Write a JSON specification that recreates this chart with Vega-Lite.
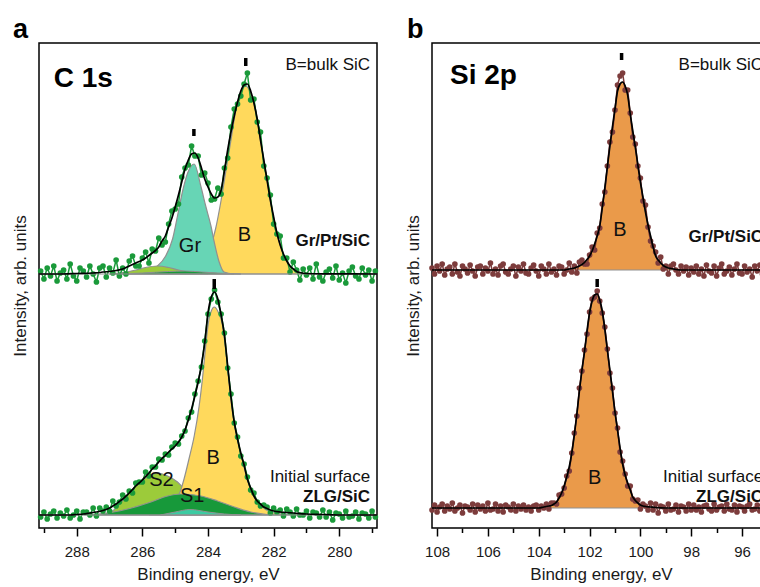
{
"$schema":"https://vega.github.io/schema/vega-lite/v6.json",
"padding":{"left":10,"top":15,"right":0,"bottom":0},
"config":{
"font":"Liberation Sans",
"view":{"stroke":"#000","strokeWidth":1.5},
"concat":{"spacing":21},
"title":{"fontSize":27,"fontWeight":"bold","anchor":"start","font":"Liberation Sans","color":"#000","offset":-1},
"axis":{"labelFont":"Liberation Sans","titleFont":"Liberation Sans","labelFontSize":15,"titleFontSize":17,"titleFontWeight":"normal","labelColor":"#1a1a1a","titleColor":"#1a1a1a","tickColor":"#000","tickWidth":1.5,"grid":false,"domain":false,"format":"d"},
"axisX":{"labelPadding":8,"titlePadding":7,"labelFlush":false,"labelOverlap":false},
"axisY":{"labels":false,"ticks":false,"titlePadding":10}
},
"datasets":{
"apts":[
{"s":"t","e":289.1,"y":257},{"s":"t","e":289.0,"y":249},{"s":"t","e":288.9,"y":260},{"s":"t","e":288.8,"y":252},{"s":"t","e":288.7,"y":262},{"s":"t","e":288.6,"y":247},{"s":"t","e":288.5,"y":255},{"s":"t","e":288.4,"y":258},{"s":"t","e":288.3,"y":249},{"s":"t","e":288.2,"y":264},{"s":"t","e":288.1,"y":252},{"s":"t","e":288.0,"y":247},{"s":"t","e":287.9,"y":260},{"s":"t","e":287.8,"y":257},{"s":"t","e":287.7,"y":251},{"s":"t","e":287.6,"y":262},{"s":"t","e":287.5,"y":254},{"s":"t","e":287.4,"y":246},{"s":"t","e":287.3,"y":260},{"s":"t","e":287.2,"y":262},{"s":"t","e":287.1,"y":251},{"s":"t","e":287.0,"y":260},{"s":"t","e":286.9,"y":255},{"s":"t","e":286.8,"y":268},{"s":"t","e":286.7,"y":252},{"s":"t","e":286.6,"y":260},{"s":"t","e":286.5,"y":254},{"s":"t","e":286.4,"y":267},{"s":"t","e":286.3,"y":272},{"s":"t","e":286.2,"y":262},{"s":"t","e":286.1,"y":262},{"s":"t","e":286.0,"y":270},{"s":"t","e":285.9,"y":276},{"s":"t","e":285.8,"y":265},{"s":"t","e":285.7,"y":279},{"s":"t","e":285.6,"y":277},{"s":"t","e":285.5,"y":290},{"s":"t","e":285.4,"y":283},{"s":"t","e":285.3,"y":286},{"s":"t","e":285.2,"y":304},{"s":"t","e":285.1,"y":317},{"s":"t","e":285.0,"y":319},{"s":"t","e":284.9,"y":324},{"s":"t","e":284.8,"y":351},{"s":"t","e":284.7,"y":360},{"s":"t","e":284.6,"y":363},{"s":"t","e":284.5,"y":382},{"s":"t","e":284.4,"y":372},{"s":"t","e":284.3,"y":372},{"s":"t","e":284.2,"y":353},{"s":"t","e":284.1,"y":355},{"s":"t","e":284.0,"y":345},{"s":"t","e":283.9,"y":328},{"s":"t","e":283.8,"y":329},{"s":"t","e":283.7,"y":340},{"s":"t","e":283.6,"y":334},{"s":"t","e":283.5,"y":360},{"s":"t","e":283.4,"y":370},{"s":"t","e":283.3,"y":401},{"s":"t","e":283.2,"y":419},{"s":"t","e":283.1,"y":424},{"s":"t","e":283.0,"y":432},{"s":"t","e":282.9,"y":444},{"s":"t","e":282.8,"y":455},{"s":"t","e":282.7,"y":428},{"s":"t","e":282.6,"y":429},{"s":"t","e":282.5,"y":406},{"s":"t","e":282.4,"y":396},{"s":"t","e":282.3,"y":362},{"s":"t","e":282.2,"y":350},{"s":"t","e":282.1,"y":333},{"s":"t","e":282.0,"y":304},{"s":"t","e":281.9,"y":294},{"s":"t","e":281.8,"y":292},{"s":"t","e":281.7,"y":270},{"s":"t","e":281.6,"y":270},{"s":"t","e":281.5,"y":256},{"s":"t","e":281.4,"y":266},{"s":"t","e":281.3,"y":258},{"s":"t","e":281.2,"y":248},{"s":"t","e":281.1,"y":259},{"s":"t","e":281.0,"y":253},{"s":"t","e":280.9,"y":260},{"s":"t","e":280.8,"y":249},{"s":"t","e":280.7,"y":264},{"s":"t","e":280.6,"y":251},{"s":"t","e":280.5,"y":247},{"s":"t","e":280.4,"y":256},{"s":"t","e":280.3,"y":259},{"s":"t","e":280.2,"y":250},{"s":"t","e":280.1,"y":262},{"s":"t","e":280.0,"y":248},{"s":"t","e":279.9,"y":255},{"s":"t","e":279.8,"y":245},{"s":"t","e":279.7,"y":257},{"s":"t","e":279.6,"y":261},{"s":"t","e":279.5,"y":252},{"s":"t","e":279.4,"y":249},{"s":"t","e":279.3,"y":260},{"s":"t","e":279.2,"y":253},{"s":"t","e":279.1,"y":258},{"s":"t","e":279.0,"y":247},{"s":"t","e":278.9,"y":257},
{"s":"b","e":289.1,"y":11},{"s":"b","e":289.0,"y":16},{"s":"b","e":288.9,"y":9},{"s":"b","e":288.8,"y":14},{"s":"b","e":288.7,"y":17},{"s":"b","e":288.6,"y":10},{"s":"b","e":288.5,"y":15},{"s":"b","e":288.4,"y":12},{"s":"b","e":288.3,"y":18},{"s":"b","e":288.2,"y":10},{"s":"b","e":288.1,"y":13},{"s":"b","e":288.0,"y":17},{"s":"b","e":287.9,"y":9},{"s":"b","e":287.8,"y":16},{"s":"b","e":287.7,"y":16},{"s":"b","e":287.6,"y":13},{"s":"b","e":287.5,"y":20},{"s":"b","e":287.4,"y":12},{"s":"b","e":287.3,"y":20},{"s":"b","e":287.2,"y":17},{"s":"b","e":287.1,"y":21},{"s":"b","e":287.0,"y":17},{"s":"b","e":286.9,"y":27},{"s":"b","e":286.8,"y":22},{"s":"b","e":286.7,"y":26},{"s":"b","e":286.6,"y":33},{"s":"b","e":286.5,"y":29},{"s":"b","e":286.4,"y":37},{"s":"b","e":286.3,"y":35},{"s":"b","e":286.2,"y":45},{"s":"b","e":286.1,"y":46},{"s":"b","e":286.0,"y":46},{"s":"b","e":285.9,"y":56},{"s":"b","e":285.8,"y":52},{"s":"b","e":285.7,"y":61},{"s":"b","e":285.6,"y":61},{"s":"b","e":285.5,"y":69},{"s":"b","e":285.4,"y":68},{"s":"b","e":285.3,"y":74},{"s":"b","e":285.2,"y":73},{"s":"b","e":285.1,"y":81},{"s":"b","e":285.0,"y":85},{"s":"b","e":284.9,"y":84},{"s":"b","e":284.8,"y":92},{"s":"b","e":284.7,"y":97},{"s":"b","e":284.6,"y":110},{"s":"b","e":284.5,"y":116},{"s":"b","e":284.4,"y":134},{"s":"b","e":284.3,"y":147},{"s":"b","e":284.2,"y":161},{"s":"b","e":284.1,"y":187},{"s":"b","e":284.0,"y":214},{"s":"b","e":283.9,"y":229},{"s":"b","e":283.8,"y":238},{"s":"b","e":283.7,"y":226},{"s":"b","e":283.6,"y":214},{"s":"b","e":283.5,"y":195},{"s":"b","e":283.4,"y":160},{"s":"b","e":283.3,"y":134},{"s":"b","e":283.2,"y":105},{"s":"b","e":283.1,"y":91},{"s":"b","e":283.0,"y":72},{"s":"b","e":282.9,"y":64},{"s":"b","e":282.8,"y":51},{"s":"b","e":282.7,"y":38},{"s":"b","e":282.6,"y":35},{"s":"b","e":282.5,"y":26},{"s":"b","e":282.4,"y":22},{"s":"b","e":282.3,"y":23},{"s":"b","e":282.2,"y":21},{"s":"b","e":282.1,"y":15},{"s":"b","e":282.0,"y":20},{"s":"b","e":281.9,"y":16},{"s":"b","e":281.8,"y":18},{"s":"b","e":281.7,"y":12},{"s":"b","e":281.6,"y":19},{"s":"b","e":281.5,"y":16},{"s":"b","e":281.4,"y":12},{"s":"b","e":281.3,"y":19},{"s":"b","e":281.2,"y":13},{"s":"b","e":281.1,"y":13},{"s":"b","e":281.0,"y":17},{"s":"b","e":280.9,"y":10},{"s":"b","e":280.8,"y":16},{"s":"b","e":280.7,"y":15},{"s":"b","e":280.6,"y":11},{"s":"b","e":280.5,"y":18},{"s":"b","e":280.4,"y":11},{"s":"b","e":280.3,"y":16},{"s":"b","e":280.2,"y":8},{"s":"b","e":280.1,"y":15},{"s":"b","e":280.0,"y":14},{"s":"b","e":279.9,"y":10},{"s":"b","e":279.8,"y":17},{"s":"b","e":279.7,"y":11},{"s":"b","e":279.6,"y":12},{"s":"b","e":279.5,"y":16},{"s":"b","e":279.4,"y":9},{"s":"b","e":279.3,"y":15},{"s":"b","e":279.2,"y":14},{"s":"b","e":279.1,"y":10},{"s":"b","e":279.0,"y":17},{"s":"b","e":278.9,"y":11}
],
"afit":[
{"s":"t","e":289.15,"y":254},{"s":"t","e":288.5,"y":254},{"s":"t","e":288.0,"y":254.5},{"s":"t","e":287.5,"y":255},{"s":"t","e":287.3,"y":255.5},{"s":"t","e":287.2,"y":256},{"s":"t","e":287.0,"y":256.5},{"s":"t","e":286.8,"y":257.5},{"s":"t","e":286.6,"y":259},{"s":"t","e":286.4,"y":262},{"s":"t","e":286.2,"y":265},{"s":"t","e":286.0,"y":268},{"s":"t","e":285.9,"y":270},{"s":"t","e":285.8,"y":272.5},{"s":"t","e":285.7,"y":275},{"s":"t","e":285.6,"y":277.5},{"s":"t","e":285.5,"y":281},{"s":"t","e":285.4,"y":287},{"s":"t","e":285.3,"y":292},{"s":"t","e":285.2,"y":301},{"s":"t","e":285.1,"y":310},{"s":"t","e":285.0,"y":321},{"s":"t","e":284.9,"y":333},{"s":"t","e":284.8,"y":346},{"s":"t","e":284.7,"y":359},{"s":"t","e":284.6,"y":368},{"s":"t","e":284.5,"y":374},{"s":"t","e":284.4,"y":375},{"s":"t","e":284.3,"y":370},{"s":"t","e":284.2,"y":360},{"s":"t","e":284.1,"y":349},{"s":"t","e":284.0,"y":341},{"s":"t","e":283.9,"y":334},{"s":"t","e":283.8,"y":330},{"s":"t","e":283.7,"y":331},{"s":"t","e":283.6,"y":338},{"s":"t","e":283.5,"y":357},{"s":"t","e":283.4,"y":378},{"s":"t","e":283.3,"y":396},{"s":"t","e":283.2,"y":412},{"s":"t","e":283.1,"y":426},{"s":"t","e":283.0,"y":437},{"s":"t","e":282.9,"y":443},{"s":"t","e":282.8,"y":444},{"s":"t","e":282.7,"y":437},{"s":"t","e":282.6,"y":425},{"s":"t","e":282.5,"y":409},{"s":"t","e":282.4,"y":388},{"s":"t","e":282.3,"y":368},{"s":"t","e":282.2,"y":348},{"s":"t","e":282.1,"y":328},{"s":"t","e":282.0,"y":311},{"s":"t","e":281.9,"y":295},{"s":"t","e":281.8,"y":283},{"s":"t","e":281.7,"y":274},{"s":"t","e":281.6,"y":267},{"s":"t","e":281.5,"y":262},{"s":"t","e":281.4,"y":259},{"s":"t","e":281.3,"y":256.5},{"s":"t","e":281.2,"y":255.5},{"s":"t","e":281.0,"y":254.5},{"s":"t","e":280.5,"y":254.2},{"s":"t","e":278.85,"y":254},
{"s":"b","e":289.15,"y":13},{"s":"b","e":288.2,"y":13},{"s":"b","e":288.0,"y":13.5},{"s":"b","e":287.8,"y":14},{"s":"b","e":287.6,"y":15},{"s":"b","e":287.4,"y":16},{"s":"b","e":287.2,"y":17.5},{"s":"b","e":287.0,"y":20},{"s":"b","e":286.9,"y":22},{"s":"b","e":286.8,"y":24},{"s":"b","e":286.7,"y":26.5},{"s":"b","e":286.6,"y":29},{"s":"b","e":286.5,"y":32},{"s":"b","e":286.4,"y":35},{"s":"b","e":286.3,"y":38.5},{"s":"b","e":286.2,"y":42},{"s":"b","e":286.1,"y":45},{"s":"b","e":286.0,"y":48},{"s":"b","e":285.9,"y":51.5},{"s":"b","e":285.8,"y":55},{"s":"b","e":285.7,"y":59},{"s":"b","e":285.6,"y":62},{"s":"b","e":285.5,"y":66},{"s":"b","e":285.4,"y":69.5},{"s":"b","e":285.3,"y":72.5},{"s":"b","e":285.2,"y":76},{"s":"b","e":285.1,"y":79},{"s":"b","e":285.0,"y":82},{"s":"b","e":284.9,"y":86},{"s":"b","e":284.8,"y":91},{"s":"b","e":284.7,"y":98},{"s":"b","e":284.6,"y":108},{"s":"b","e":284.5,"y":119},{"s":"b","e":284.4,"y":132},{"s":"b","e":284.3,"y":146},{"s":"b","e":284.2,"y":163},{"s":"b","e":284.1,"y":185},{"s":"b","e":284.0,"y":215},{"s":"b","e":283.9,"y":231},{"s":"b","e":283.8,"y":236},{"s":"b","e":283.7,"y":229},{"s":"b","e":283.6,"y":213},{"s":"b","e":283.5,"y":193},{"s":"b","e":283.4,"y":162},{"s":"b","e":283.3,"y":131},{"s":"b","e":283.2,"y":106},{"s":"b","e":283.1,"y":89},{"s":"b","e":283.0,"y":75},{"s":"b","e":282.9,"y":63},{"s":"b","e":282.8,"y":49},{"s":"b","e":282.7,"y":40},{"s":"b","e":282.6,"y":32},{"s":"b","e":282.5,"y":27},{"s":"b","e":282.4,"y":24},{"s":"b","e":282.3,"y":21},{"s":"b","e":282.2,"y":19.5},{"s":"b","e":282.1,"y":18},{"s":"b","e":282.0,"y":17},{"s":"b","e":281.8,"y":16},{"s":"b","e":281.6,"y":15.5},{"s":"b","e":281.4,"y":15},{"s":"b","e":281.0,"y":14},{"s":"b","e":280.5,"y":13.5},{"s":"b","e":280.0,"y":13},{"s":"b","e":278.85,"y":13}
],
"acomp":[
{"c":"Bt","e":284.85,"y":254},{"c":"Bt","e":284.43,"y":256},{"c":"Bt","e":284.22,"y":261},{"c":"Bt","e":283.97,"y":276},{"c":"Bt","e":283.77,"y":299},{"c":"Bt","e":283.61,"y":326},{"c":"Bt","e":283.46,"y":356},{"c":"Bt","e":283.31,"y":386},{"c":"Bt","e":283.16,"y":416},{"c":"Bt","e":283.0,"y":435},{"c":"Bt","e":282.85,"y":442},{"c":"Bt","e":282.7,"y":435},{"c":"Bt","e":282.54,"y":416},{"c":"Bt","e":282.39,"y":386},{"c":"Bt","e":282.24,"y":356},{"c":"Bt","e":282.09,"y":326},{"c":"Bt","e":281.93,"y":299},{"c":"Bt","e":281.73,"y":276},{"c":"Bt","e":281.48,"y":261},{"c":"Bt","e":281.27,"y":256},{"c":"Bt","e":280.85,"y":254},
{"c":"Gt","e":286.5,"y":254},{"c":"Gt","e":286.0,"y":255.5},{"c":"Gt","e":285.75,"y":258},{"c":"Gt","e":285.54,"y":262},{"c":"Gt","e":285.29,"y":272},{"c":"Gt","e":285.08,"y":289},{"c":"Gt","e":284.93,"y":312},{"c":"Gt","e":284.78,"y":336},{"c":"Gt","e":284.62,"y":355},{"c":"Gt","e":284.42,"y":364},{"c":"Gt","e":284.22,"y":342},{"c":"Gt","e":284.07,"y":322},{"c":"Gt","e":283.91,"y":302},{"c":"Gt","e":283.81,"y":286},{"c":"Gt","e":283.66,"y":266},{"c":"Gt","e":283.51,"y":256},{"c":"Gt","e":283.2,"y":254},
{"c":"Lt","e":287.0,"y":254},{"c":"Lt","e":286.6,"y":255.5},{"c":"Lt","e":286.2,"y":258},{"c":"Lt","e":285.9,"y":260.5},{"c":"Lt","e":285.53,"y":262},{"c":"Lt","e":285.2,"y":260.5},{"c":"Lt","e":284.9,"y":258},{"c":"Lt","e":284.5,"y":255.5},{"c":"Lt","e":284.0,"y":254},
{"c":"Dt","e":286.8,"y":254},{"c":"Dt","e":286.0,"y":255},{"c":"Dt","e":285.2,"y":256.5},{"c":"Dt","e":284.7,"y":257},{"c":"Dt","e":284.2,"y":256},{"c":"Dt","e":283.6,"y":254.8},{"c":"Dt","e":283.0,"y":254},
{"c":"S2","e":287.6,"y":13},{"c":"S2","e":287.3,"y":14},{"c":"S2","e":286.96,"y":16},{"c":"S2","e":286.56,"y":29},{"c":"S2","e":286.15,"y":44},{"c":"S2","e":285.8,"y":52},{"c":"S2","e":285.54,"y":55},{"c":"S2","e":285.23,"y":52},{"c":"S2","e":284.93,"y":46},{"c":"S2","e":284.78,"y":41},{"c":"S2","e":284.5,"y":31},{"c":"S2","e":284.2,"y":22},{"c":"S2","e":283.8,"y":16},{"c":"S2","e":283.4,"y":13.5},{"c":"S2","e":283.0,"y":13},
{"c":"Bb","e":285.8,"y":13},{"c":"Bb","e":285.4,"y":16},{"c":"Bb","e":285.1,"y":24},{"c":"Bb","e":284.85,"y":36},{"c":"Bb","e":284.73,"y":49},{"c":"Bb","e":284.58,"y":69},{"c":"Bb","e":284.42,"y":92},{"c":"Bb","e":284.27,"y":122},{"c":"Bb","e":284.17,"y":149},{"c":"Bb","e":284.07,"y":182},{"c":"Bb","e":283.97,"y":209},{"c":"Bb","e":283.9,"y":217},{"c":"Bb","e":283.81,"y":221},{"c":"Bb","e":283.69,"y":216},{"c":"Bb","e":283.56,"y":203},{"c":"Bb","e":283.46,"y":178},{"c":"Bb","e":283.36,"y":147},{"c":"Bb","e":283.25,"y":115},{"c":"Bb","e":283.12,"y":91},{"c":"Bb","e":282.95,"y":68},{"c":"Bb","e":282.8,"y":48},{"c":"Bb","e":282.59,"y":31},{"c":"Bb","e":282.34,"y":21},{"c":"Bb","e":281.98,"y":15},{"c":"Bb","e":281.48,"y":13.5},{"c":"Bb","e":281.0,"y":13},
{"c":"S1","e":287.8,"y":13},{"c":"S1","e":287.27,"y":14},{"c":"S1","e":286.45,"y":19},{"c":"S1","e":285.74,"y":26},{"c":"S1","e":285.23,"y":32},{"c":"S1","e":284.83,"y":34},{"c":"S1","e":284.22,"y":32},{"c":"S1","e":283.71,"y":27},{"c":"S1","e":283.2,"y":21},{"c":"S1","e":282.7,"y":16},{"c":"S1","e":282.2,"y":13.5},{"c":"S1","e":281.8,"y":13},
{"c":"Tb","e":285.45,"y":13},{"c":"Tb","e":285.0,"y":16},{"c":"Tb","e":284.55,"y":18.5},{"c":"Tb","e":284.0,"y":16},{"c":"Tb","e":283.5,"y":14},{"c":"Tb","e":283.0,"y":13}
],
"abase":[{"s":"t","e":289.15,"y":254},{"s":"t","e":278.85,"y":254},{"s":"b","e":289.15,"y":13},{"s":"b","e":278.85,"y":13}],
"bpts":[
{"s":"t","e":108.2,"y":260},{"s":"t","e":108.1,"y":254},{"s":"t","e":108.0,"y":262},{"s":"t","e":107.9,"y":257},{"s":"t","e":107.8,"y":264},{"s":"t","e":107.7,"y":253},{"s":"t","e":107.6,"y":259},{"s":"t","e":107.5,"y":261},{"s":"t","e":107.4,"y":254},{"s":"t","e":107.3,"y":264},{"s":"t","e":107.2,"y":256},{"s":"t","e":107.1,"y":252},{"s":"t","e":107.0,"y":262},{"s":"t","e":106.9,"y":259},{"s":"t","e":106.8,"y":255},{"s":"t","e":106.7,"y":263},{"s":"t","e":106.6,"y":257},{"s":"t","e":106.5,"y":252},{"s":"t","e":106.4,"y":261},{"s":"t","e":106.3,"y":262},{"s":"t","e":106.2,"y":254},{"s":"t","e":106.1,"y":260},{"s":"t","e":106.0,"y":257},{"s":"t","e":105.9,"y":265},{"s":"t","e":105.8,"y":254},{"s":"t","e":105.7,"y":259},{"s":"t","e":105.6,"y":253},{"s":"t","e":105.5,"y":262},{"s":"t","e":105.4,"y":264},{"s":"t","e":105.3,"y":256},{"s":"t","e":105.2,"y":254},{"s":"t","e":105.1,"y":259},{"s":"t","e":105.0,"y":262},{"s":"t","e":104.9,"y":252},{"s":"t","e":104.8,"y":261},{"s":"t","e":104.7,"y":257},{"s":"t","e":104.6,"y":264},{"s":"t","e":104.5,"y":255},{"s":"t","e":104.4,"y":254},{"s":"t","e":104.3,"y":260},{"s":"t","e":104.2,"y":263},{"s":"t","e":104.1,"y":257},{"s":"t","e":104.0,"y":252},{"s":"t","e":103.9,"y":262},{"s":"t","e":103.8,"y":259},{"s":"t","e":103.7,"y":254},{"s":"t","e":103.6,"y":264},{"s":"t","e":103.5,"y":256},{"s":"t","e":103.4,"y":259},{"s":"t","e":103.3,"y":253},{"s":"t","e":103.2,"y":262},{"s":"t","e":103.1,"y":261},{"s":"t","e":103.0,"y":254},{"s":"t","e":102.9,"y":258},{"s":"t","e":102.8,"y":265},{"s":"t","e":102.7,"y":256},{"s":"t","e":102.6,"y":262},{"s":"t","e":102.5,"y":255},{"s":"t","e":102.4,"y":266},{"s":"t","e":102.3,"y":268},{"s":"t","e":102.2,"y":264},{"s":"t","e":102.1,"y":264},{"s":"t","e":102.0,"y":273},{"s":"t","e":101.9,"y":281},{"s":"t","e":101.8,"y":278},{"s":"t","e":101.7,"y":295},{"s":"t","e":101.6,"y":300},{"s":"t","e":101.5,"y":324},{"s":"t","e":101.4,"y":336},{"s":"t","e":101.3,"y":362},{"s":"t","e":101.2,"y":386},{"s":"t","e":101.1,"y":396},{"s":"t","e":101.0,"y":418},{"s":"t","e":100.9,"y":443},{"s":"t","e":100.8,"y":452},{"s":"t","e":100.7,"y":455},{"s":"t","e":100.6,"y":438},{"s":"t","e":100.5,"y":438},{"s":"t","e":100.4,"y":415},{"s":"t","e":100.3,"y":391},{"s":"t","e":100.2,"y":384},{"s":"t","e":100.1,"y":362},{"s":"t","e":100.0,"y":350},{"s":"t","e":99.9,"y":327},{"s":"t","e":99.8,"y":323},{"s":"t","e":99.7,"y":301},{"s":"t","e":99.6,"y":287},{"s":"t","e":99.5,"y":282},{"s":"t","e":99.4,"y":276},{"s":"t","e":99.3,"y":265},{"s":"t","e":99.2,"y":271},{"s":"t","e":99.1,"y":259},{"s":"t","e":99.0,"y":262},{"s":"t","e":98.9,"y":254},{"s":"t","e":98.8,"y":262},{"s":"t","e":98.7,"y":264},{"s":"t","e":98.6,"y":258},{"s":"t","e":98.5,"y":254},{"s":"t","e":98.4,"y":262},{"s":"t","e":98.3,"y":257},{"s":"t","e":98.2,"y":261},{"s":"t","e":98.1,"y":253},{"s":"t","e":98.0,"y":260},{"s":"t","e":97.9,"y":256},{"s":"t","e":97.8,"y":262},{"s":"t","e":97.7,"y":254},{"s":"t","e":97.6,"y":259},{"s":"t","e":97.5,"y":252},{"s":"t","e":97.4,"y":263},{"s":"t","e":97.3,"y":257},{"s":"t","e":97.2,"y":255},{"s":"t","e":97.1,"y":262},{"s":"t","e":97.0,"y":252},{"s":"t","e":96.9,"y":260},{"s":"t","e":96.8,"y":264},{"s":"t","e":96.7,"y":254},{"s":"t","e":96.6,"y":257},{"s":"t","e":96.5,"y":261},{"s":"t","e":96.4,"y":253},{"s":"t","e":96.3,"y":259},{"s":"t","e":96.2,"y":264},{"s":"t","e":96.1,"y":255},{"s":"t","e":96.0,"y":254},{"s":"t","e":95.9,"y":262},{"s":"t","e":95.8,"y":256},{"s":"t","e":95.7,"y":259},{"s":"t","e":95.6,"y":251},{"s":"t","e":95.5,"y":262},{"s":"t","e":95.4,"y":257},{"s":"t","e":95.3,"y":263},{"s":"t","e":95.2,"y":254},{"s":"t","e":95.1,"y":252},{"s":"t","e":95.0,"y":260},{"s":"t","e":94.9,"y":262},
{"s":"b","e":108.2,"y":18},{"s":"b","e":108.1,"y":23},{"s":"b","e":108.0,"y":16},{"s":"b","e":107.9,"y":21},{"s":"b","e":107.8,"y":24},{"s":"b","e":107.7,"y":17},{"s":"b","e":107.6,"y":22},{"s":"b","e":107.5,"y":19},{"s":"b","e":107.4,"y":25},{"s":"b","e":107.3,"y":17},{"s":"b","e":107.2,"y":20},{"s":"b","e":107.1,"y":23},{"s":"b","e":107.0,"y":15},{"s":"b","e":106.9,"y":22},{"s":"b","e":106.8,"y":21},{"s":"b","e":106.7,"y":18},{"s":"b","e":106.6,"y":24},{"s":"b","e":106.5,"y":16},{"s":"b","e":106.4,"y":23},{"s":"b","e":106.3,"y":19},{"s":"b","e":106.2,"y":22},{"s":"b","e":106.1,"y":17},{"s":"b","e":106.0,"y":25},{"s":"b","e":105.9,"y":18},{"s":"b","e":105.8,"y":19},{"s":"b","e":105.7,"y":24},{"s":"b","e":105.6,"y":17},{"s":"b","e":105.5,"y":22},{"s":"b","e":105.4,"y":16},{"s":"b","e":105.3,"y":23},{"s":"b","e":105.2,"y":21},{"s":"b","e":105.1,"y":18},{"s":"b","e":105.0,"y":24},{"s":"b","e":104.9,"y":17},{"s":"b","e":104.8,"y":22},{"s":"b","e":104.7,"y":19},{"s":"b","e":104.6,"y":23},{"s":"b","e":104.5,"y":18},{"s":"b","e":104.4,"y":21},{"s":"b","e":104.3,"y":17},{"s":"b","e":104.2,"y":22},{"s":"b","e":104.1,"y":23},{"s":"b","e":104.0,"y":18},{"s":"b","e":103.9,"y":22},{"s":"b","e":103.8,"y":20},{"s":"b","e":103.7,"y":24},{"s":"b","e":103.6,"y":19},{"s":"b","e":103.5,"y":25},{"s":"b","e":103.4,"y":25},{"s":"b","e":103.3,"y":24},{"s":"b","e":103.2,"y":33},{"s":"b","e":103.1,"y":34},{"s":"b","e":103.0,"y":40},{"s":"b","e":102.9,"y":52},{"s":"b","e":102.8,"y":57},{"s":"b","e":102.7,"y":75},{"s":"b","e":102.6,"y":95},{"s":"b","e":102.5,"y":112},{"s":"b","e":102.4,"y":140},{"s":"b","e":102.3,"y":157},{"s":"b","e":102.2,"y":178},{"s":"b","e":102.1,"y":194},{"s":"b","e":102.0,"y":216},{"s":"b","e":101.9,"y":229},{"s":"b","e":101.8,"y":231},{"s":"b","e":101.7,"y":237},{"s":"b","e":101.6,"y":227},{"s":"b","e":101.5,"y":215},{"s":"b","e":101.4,"y":201},{"s":"b","e":101.3,"y":179},{"s":"b","e":101.2,"y":155},{"s":"b","e":101.1,"y":140},{"s":"b","e":101.0,"y":115},{"s":"b","e":100.9,"y":100},{"s":"b","e":100.8,"y":76},{"s":"b","e":100.7,"y":67},{"s":"b","e":100.6,"y":54},{"s":"b","e":100.5,"y":42},{"s":"b","e":100.4,"y":42},{"s":"b","e":100.3,"y":29},{"s":"b","e":100.2,"y":27},{"s":"b","e":100.1,"y":28},{"s":"b","e":100.0,"y":19},{"s":"b","e":99.9,"y":24},{"s":"b","e":99.8,"y":22},{"s":"b","e":99.7,"y":18},{"s":"b","e":99.6,"y":25},{"s":"b","e":99.5,"y":18},{"s":"b","e":99.4,"y":24},{"s":"b","e":99.3,"y":15},{"s":"b","e":99.2,"y":22},{"s":"b","e":99.1,"y":21},{"s":"b","e":99.0,"y":17},{"s":"b","e":98.9,"y":24},{"s":"b","e":98.8,"y":18},{"s":"b","e":98.7,"y":19},{"s":"b","e":98.6,"y":23},{"s":"b","e":98.5,"y":16},{"s":"b","e":98.4,"y":22},{"s":"b","e":98.3,"y":21},{"s":"b","e":98.2,"y":17},{"s":"b","e":98.1,"y":24},{"s":"b","e":98.0,"y":18},{"s":"b","e":97.9,"y":23},{"s":"b","e":97.8,"y":18},{"s":"b","e":97.7,"y":21},{"s":"b","e":97.6,"y":16},{"s":"b","e":97.5,"y":22},{"s":"b","e":97.4,"y":23},{"s":"b","e":97.3,"y":19},{"s":"b","e":97.2,"y":17},{"s":"b","e":97.1,"y":24},{"s":"b","e":97.0,"y":18},{"s":"b","e":96.9,"y":21},{"s":"b","e":96.8,"y":22},{"s":"b","e":96.7,"y":17},{"s":"b","e":96.6,"y":24},{"s":"b","e":96.5,"y":19},{"s":"b","e":96.4,"y":18},{"s":"b","e":96.3,"y":23},{"s":"b","e":96.2,"y":16},{"s":"b","e":96.1,"y":22},{"s":"b","e":96.0,"y":21},{"s":"b","e":95.9,"y":17},{"s":"b","e":95.8,"y":22},{"s":"b","e":95.7,"y":24},{"s":"b","e":95.6,"y":18},{"s":"b","e":95.5,"y":19},{"s":"b","e":95.4,"y":23},{"s":"b","e":95.3,"y":17},{"s":"b","e":95.2,"y":22},{"s":"b","e":95.1,"y":16},{"s":"b","e":95.0,"y":21},{"s":"b","e":94.9,"y":23}
],
"bfit":[
{"s":"t","e":108.2,"y":258},{"s":"t","e":103.0,"y":258},{"s":"t","e":102.9,"y":258.5},{"s":"t","e":102.8,"y":259},{"s":"t","e":102.7,"y":259.5},{"s":"t","e":102.6,"y":260},{"s":"t","e":102.5,"y":261},{"s":"t","e":102.4,"y":262},{"s":"t","e":102.3,"y":263.5},{"s":"t","e":102.2,"y":265.5},{"s":"t","e":102.1,"y":268.5},{"s":"t","e":102.0,"y":272},{"s":"t","e":101.9,"y":277},{"s":"t","e":101.8,"y":284},{"s":"t","e":101.7,"y":292},{"s":"t","e":101.6,"y":302},{"s":"t","e":101.5,"y":320},{"s":"t","e":101.4,"y":340},{"s":"t","e":101.3,"y":361},{"s":"t","e":101.2,"y":382},{"s":"t","e":101.1,"y":401},{"s":"t","e":101.0,"y":419},{"s":"t","e":100.9,"y":437},{"s":"t","e":100.8,"y":444},{"s":"t","e":100.7,"y":446},{"s":"t","e":100.6,"y":442},{"s":"t","e":100.5,"y":433},{"s":"t","e":100.4,"y":414},{"s":"t","e":100.3,"y":397},{"s":"t","e":100.2,"y":381},{"s":"t","e":100.1,"y":363},{"s":"t","e":100.0,"y":346},{"s":"t","e":99.9,"y":331},{"s":"t","e":99.8,"y":316},{"s":"t","e":99.7,"y":303},{"s":"t","e":99.6,"y":292},{"s":"t","e":99.5,"y":281},{"s":"t","e":99.4,"y":272},{"s":"t","e":99.3,"y":268},{"s":"t","e":99.2,"y":265},{"s":"t","e":99.1,"y":262.5},{"s":"t","e":99.0,"y":261},{"s":"t","e":98.9,"y":260},{"s":"t","e":98.8,"y":259.5},{"s":"t","e":98.7,"y":259},{"s":"t","e":98.6,"y":258.5},{"s":"t","e":98.4,"y":258},{"s":"t","e":94.9,"y":258},
{"s":"b","e":108.2,"y":20},{"s":"b","e":104.0,"y":20},{"s":"b","e":103.8,"y":21},{"s":"b","e":103.6,"y":22},{"s":"b","e":103.5,"y":22.5},{"s":"b","e":103.4,"y":24},{"s":"b","e":103.3,"y":26},{"s":"b","e":103.2,"y":30},{"s":"b","e":103.1,"y":35},{"s":"b","e":103.0,"y":42},{"s":"b","e":102.9,"y":51},{"s":"b","e":102.8,"y":61},{"s":"b","e":102.7,"y":75},{"s":"b","e":102.6,"y":93},{"s":"b","e":102.5,"y":114},{"s":"b","e":102.4,"y":137},{"s":"b","e":102.3,"y":158},{"s":"b","e":102.2,"y":176},{"s":"b","e":102.1,"y":197},{"s":"b","e":102.0,"y":215},{"s":"b","e":101.9,"y":227},{"s":"b","e":101.8,"y":233},{"s":"b","e":101.7,"y":234},{"s":"b","e":101.6,"y":228},{"s":"b","e":101.5,"y":217},{"s":"b","e":101.4,"y":199},{"s":"b","e":101.3,"y":178},{"s":"b","e":101.2,"y":158},{"s":"b","e":101.1,"y":137},{"s":"b","e":101.0,"y":116},{"s":"b","e":100.9,"y":98},{"s":"b","e":100.8,"y":80},{"s":"b","e":100.7,"y":64},{"s":"b","e":100.6,"y":53},{"s":"b","e":100.5,"y":45},{"s":"b","e":100.4,"y":38},{"s":"b","e":100.3,"y":31},{"s":"b","e":100.2,"y":27.5},{"s":"b","e":100.1,"y":25},{"s":"b","e":100.0,"y":23},{"s":"b","e":99.9,"y":22},{"s":"b","e":99.8,"y":21.5},{"s":"b","e":99.6,"y":21},{"s":"b","e":99.4,"y":20.5},{"s":"b","e":99.0,"y":20},{"s":"b","e":94.9,"y":20}
]
},
"hconcat":[
{
"width":338,"height":485,
"title":{"text":"a","dx":2},
"encoding":{
"x":{"field":"e","type":"quantitative","title":"Binding energy, eV","scale":{"domain":[278.85,289.15],"reverse":true,"nice":false,"zero":false},"axis":{"values":[279,279.5,280,280.5,281,281.5,282,282.5,283,283.5,284,284.5,285,285.5,286,286.5,287,287.5,288,288.5,289],"format":"d","tickSize":{"condition":{"test":"datum.value % 2 === 0","value":8},"value":4.5},"labelExpr":"datum.value % 2 === 0 ? datum.label : ''"}},
"y":{"field":"y","type":"quantitative","title":"Intensity, arb. units","scale":{"domain":[0,485],"nice":false,"zero":false}}
},
"layer":[
{"data":{"name":"acomp"},"transform":[{"filter":"datum.c==='Bt'"}],"mark":{"type":"area","fill":"#FFD95C","stroke":"#909090","strokeWidth":1.2,"interpolate":"monotone"},"encoding":{"y2":{"datum":254}}},
{"data":{"name":"acomp"},"transform":[{"filter":"datum.c==='Gt'"}],"mark":{"type":"area","fill":"#67D5B5","stroke":"#909090","strokeWidth":1.2,"interpolate":"monotone"},"encoding":{"y2":{"datum":254}}},
{"data":{"name":"acomp"},"transform":[{"filter":"datum.c==='Lt'"}],"mark":{"type":"area","fill":"#9CCB3A","stroke":"#909090","strokeWidth":1.2,"interpolate":"monotone"},"encoding":{"y2":{"datum":254}}},
{"data":{"name":"acomp"},"transform":[{"filter":"datum.c==='Dt'"}],"mark":{"type":"area","fill":"#17993A","stroke":"#909090","strokeWidth":1,"interpolate":"monotone"},"encoding":{"y2":{"datum":254}}},
{"data":{"name":"acomp"},"transform":[{"filter":"datum.c==='S2'"}],"mark":{"type":"area","fill":"#9CCB3A","stroke":"#909090","strokeWidth":1.2,"interpolate":"monotone"},"encoding":{"y2":{"datum":13}}},
{"data":{"name":"acomp"},"transform":[{"filter":"datum.c==='Bb'"}],"mark":{"type":"area","fill":"#FFD95C","stroke":"#909090","strokeWidth":1.2,"interpolate":"monotone"},"encoding":{"y2":{"datum":13}}},
{"data":{"name":"acomp"},"transform":[{"filter":"datum.c==='S1'"}],"mark":{"type":"area","fill":"#17993A","stroke":"#909090","strokeWidth":1.2,"interpolate":"monotone"},"encoding":{"y2":{"datum":13}}},
{"data":{"name":"acomp"},"transform":[{"filter":"datum.c==='Tb'"}],"mark":{"type":"area","fill":"#3CCBA2","stroke":"#909090","strokeWidth":1,"interpolate":"monotone"},"encoding":{"y2":{"datum":13}}},
{"data":{"name":"apts"},"mark":{"type":"line","color":"#1A9A3A","strokeWidth":1.5},"encoding":{"detail":{"field":"s"}}},
{"data":{"name":"apts"},"mark":{"type":"point","filled":true,"size":32,"color":"#1A9A3A","opacity":1}},
{"data":{"name":"abase"},"mark":{"type":"line","color":"#909090","strokeWidth":1.2},"encoding":{"detail":{"field":"s"}}},
{"data":{"name":"afit"},"mark":{"type":"line","color":"#000","strokeWidth":1.7,"interpolate":"monotone"},"encoding":{"detail":{"field":"s"}}},
{"data":{"values":[{"e":284.43,"y":392,"y2":399},{"e":282.85,"y":462,"y2":470},{"e":283.81,"y":239,"y2":249}]},"mark":{"type":"rule","color":"#000","strokeWidth":3.5},"encoding":{"y2":{"field":"y2"}}},
{"data":{"values":[{"e":288.7,"y":441,"t":"C 1s"}]},"mark":{"type":"text","align":"left","baseline":"alphabetic","fontSize":28,"fontWeight":"bold","font":"Liberation Sans","color":"#000"},"encoding":{"text":{"field":"t"}}},
{"data":{"values":[{"e":279.06,"y":458,"t":"B=bulk SiC"},{"e":279.06,"y":46,"t":"Initial surface"}]},"mark":{"type":"text","align":"right","baseline":"alphabetic","fontSize":17,"font":"Liberation Sans","color":"#111"},"encoding":{"text":{"field":"t"}}},
{"data":{"values":[{"e":279.06,"y":282,"t":"Gr/Pt/SiC"},{"e":279.06,"y":26,"t":"ZLG/SiC"}]},"mark":{"type":"text","align":"right","baseline":"alphabetic","fontSize":17,"fontWeight":"bold","font":"Liberation Sans","color":"#111"},"encoding":{"text":{"field":"t"}}},
{"data":{"values":[{"e":284.55,"y":276,"t":"Gr"},{"e":282.89,"y":287,"t":"B"},{"e":283.84,"y":64,"t":"B"},{"e":285.42,"y":42,"t":"S2"},{"e":284.48,"y":26,"t":"S1"}]},"mark":{"type":"text","align":"center","baseline":"alphabetic","fontSize":20,"font":"Liberation Sans","color":"#111"},"encoding":{"text":{"field":"t"}}}
]
},
{
"width":338,"height":485,
"title":{"text":"b","dx":3},
"encoding":{
"x":{"field":"e","type":"quantitative","title":"Binding energy, eV","scale":{"domain":[94.9,108.2],"reverse":true,"nice":false,"zero":false},"axis":{"values":[95,95.5,96,96.5,97,97.5,98,98.5,99,99.5,100,100.5,101,101.5,102,102.5,103,103.5,104,104.5,105,105.5,106,106.5,107,107.5,108],"format":"d","tickSize":{"condition":{"test":"datum.value % 2 === 0","value":8},"value":4.5},"labelExpr":"datum.value % 2 === 0 ? datum.label : ''"}},
"y":{"field":"y","type":"quantitative","title":"Intensity, arb. units","scale":{"domain":[0,485],"nice":false,"zero":false}}
},
"layer":[
{"data":{"name":"bfit"},"transform":[{"filter":"datum.s==='t'"}],"mark":{"type":"area","fill":"#EA9A4A","stroke":"#909090","strokeWidth":1.2,"interpolate":"monotone"},"encoding":{"y2":{"datum":258}}},
{"data":{"name":"bfit"},"transform":[{"filter":"datum.s==='b'"}],"mark":{"type":"area","fill":"#EA9A4A","stroke":"#909090","strokeWidth":1.2,"interpolate":"monotone"},"encoding":{"y2":{"datum":20}}},
{"data":{"name":"bpts"},"mark":{"type":"line","color":"#7D3C3C","strokeWidth":1.5},"encoding":{"detail":{"field":"s"}}},
{"data":{"name":"bpts"},"mark":{"type":"point","filled":true,"size":32,"color":"#7D3C3C","opacity":1}},
{"data":{"name":"bfit"},"mark":{"type":"line","color":"#000","strokeWidth":1.7,"interpolate":"monotone"},"encoding":{"detail":{"field":"s"}}},
{"data":{"values":[{"e":100.74,"y":468,"y2":475},{"e":101.7,"y":241,"y2":249}]},"mark":{"type":"rule","color":"#000","strokeWidth":3.5},"encoding":{"y2":{"field":"y2"}}},
{"data":{"values":[{"e":107.49,"y":444,"t":"Si 2p"}]},"mark":{"type":"text","align":"left","baseline":"alphabetic","fontSize":28,"fontWeight":"bold","font":"Liberation Sans","color":"#000"},"encoding":{"text":{"field":"t"}}},
{"data":{"values":[{"e":95.17,"y":458,"t":"B=bulk SiC"},{"e":95.17,"y":46,"t":"Initial surface"}]},"mark":{"type":"text","align":"right","baseline":"alphabetic","fontSize":17,"font":"Liberation Sans","color":"#111"},"encoding":{"text":{"field":"t"}}},
{"data":{"values":[{"e":95.17,"y":286,"t":"Gr/Pt/SiC"},{"e":95.17,"y":26,"t":"ZLG/SiC"}]},"mark":{"type":"text","align":"right","baseline":"alphabetic","fontSize":17,"fontWeight":"bold","font":"Liberation Sans","color":"#111"},"encoding":{"text":{"field":"t"}}},
{"data":{"values":[{"e":100.81,"y":292,"t":"B"},{"e":101.8,"y":44,"t":"B"}]},"mark":{"type":"text","align":"center","baseline":"alphabetic","fontSize":20,"font":"Liberation Sans","color":"#111"},"encoding":{"text":{"field":"t"}}}
]
}
]
}
